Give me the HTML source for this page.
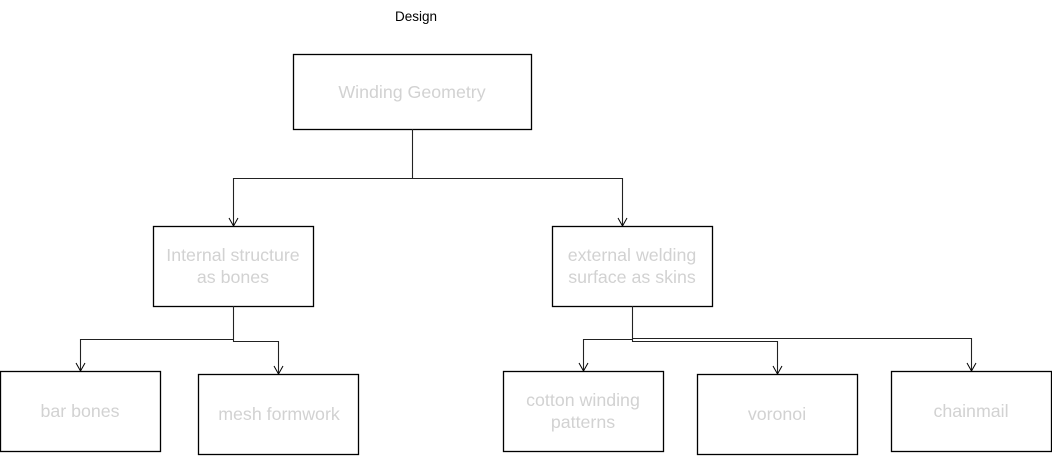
<!DOCTYPE html>
<html><head><style>
body{margin:0;width:1052px;height:469px;background:#fff;overflow:hidden;font-family:"Liberation Sans",Arial,sans-serif;}
svg{position:absolute;left:0;top:0}
</style></head><body>
<svg width="1052" height="469" viewBox="0 0 1052 469">
<g fill="none" stroke="#000" stroke-width="1.3">
<rect x="293.5" y="54.5" width="238" height="75"/>
<rect x="153.5" y="226.5" width="160" height="80"/>
<rect x="552.5" y="226.5" width="160" height="80"/>
<rect x="0.5" y="371.5" width="160" height="80"/>
<rect x="198.5" y="374.5" width="160" height="80"/>
<rect x="503.5" y="371.5" width="160" height="80"/>
<rect x="697.5" y="374.5" width="160" height="80"/>
<rect x="891.5" y="371.5" width="160" height="80"/>
</g>
<g fill="none" stroke="#222" stroke-width="1.1">
<path d="M412.5 129V178.5H233.5V226M412.5 178.5H622.5V226"/>
<path d="M233.5 306V339.5H80.5V371M233.5 339.5V341.5H278.5V374"/>
<path d="M632.5 306V339.5H583.5V371M632.5 339.5V341.5H777.5V374M632.5 338.5H971.5V371"/>
</g>
<g fill="none" stroke="#000" stroke-width="1">
<path d="M229 218l4.5 8 4.5-8M618 218l4.5 8 4.5-8M76 363l4.5 8 4.5-8M274 366l4.5 8 4.5-8M579 363l4.5 8 4.5-8M773 366l4.5 8 4.5-8M967 363l4.5 8 4.5-8"/>
</g>
<g font-family="Liberation Sans, Arial, sans-serif" font-size="17.8" fill="#d2d2d2" text-anchor="middle">
<text x="412" y="98">Winding Geometry</text>
<text x="233" y="261">Internal structure</text>
<text x="233" y="283">as bones</text>
<text x="632" y="261">external welding</text>
<text x="632" y="283">surface as skins</text>
<text x="80" y="417">bar bones</text>
<text x="279" y="420">mesh formwork</text>
<text x="583" y="406">cotton winding</text>
<text x="583" y="428">patterns</text>
<text x="777" y="420">voronoi</text>
<text x="971" y="417">chainmail</text>
</g>
<text x="416" y="21" font-family="Liberation Sans, Arial, sans-serif" font-size="13.5" fill="#000" text-anchor="middle">Design</text>
</svg>
</body></html>
